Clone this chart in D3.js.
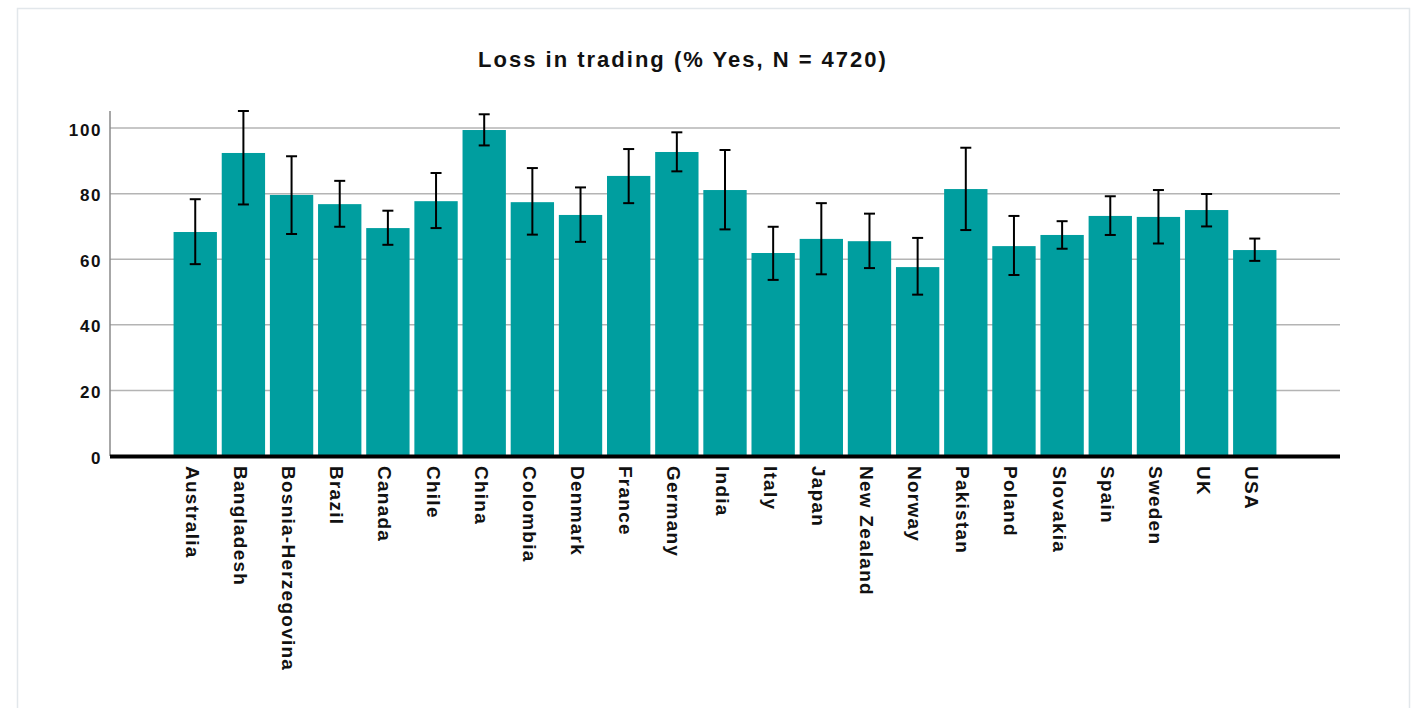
<!DOCTYPE html>
<html>
<head>
<meta charset="utf-8">
<script src="https://cdn.jsdelivr.net/npm/d3@7"></script>
<style>
  html, body { margin: 0; padding: 0; background: #ffffff; }
  svg { display: block; }
  text { font-family: "Liberation Sans", Arial, Helvetica, sans-serif; font-weight: bold; fill: #111; }
</style>
</head>
<body>
<svg id="chart" width="1413" height="708"></svg>
<script>
const categories = ["Australia", "Bangladesh", "Bosnia-Herzegovina", "Brazil", "Canada", "Chile", "China", "Colombia", "Denmark", "France", "Germany", "India", "Italy", "Japan", "New Zealand", "Norway", "Pakistan", "Poland", "Slovakia", "Spain", "Sweden", "UK", "USA"];
const values   = [68.3, 92.4, 79.6, 76.8, 69.5, 77.7, 99.4, 77.4, 73.5, 85.4, 92.7, 81.1, 61.9, 66.2, 65.5, 57.6, 81.4, 64.0, 67.4, 73.2, 72.9, 75.0, 62.8];
const errHigh  = [78.3, 105.2, 91.4, 83.9, 74.8, 86.3, 104.2, 87.8, 81.9, 93.6, 98.7, 93.3, 69.9, 77.1, 73.9, 66.5, 94.0, 73.2, 71.6, 79.2, 81.1, 79.9, 66.3];
const errLow   = [58.5, 76.7, 67.7, 69.9, 64.4, 69.5, 94.7, 67.5, 65.3, 77.1, 86.8, 69.1, 53.7, 55.4, 57.3, 49.2, 68.9, 55.2, 63.2, 67.4, 64.8, 70.0, 59.5];
const yTicks   = [0, 20, 40, 60, 80, 100];
const titleText = "Loss in trading (% Yes, N = 4720)";

const svg = d3.select("#chart");

// card border
svg.append("rect")
  .attr("x", 17.5).attr("y", 8.5)
  .attr("width", 1392).attr("height", 720)
  .attr("fill", "#fff")
  .attr("stroke", "#e2e7eb").attr("stroke-width", 1.5);

const plotLeft = 110, plotRight = 1340, plotBottom = 456, plotTop = 111;

const x = d3.scaleBand().domain(categories).range([plotLeft, plotRight])
  .paddingInner(0.1).paddingOuter(1.32);
const y = d3.scaleLinear().domain([0, 105.2]).range([plotBottom, plotTop]);

const data = categories.map((c, i) => ({ c, v: values[i], hi: errHigh[i], lo: errLow[i] }));

// gridlines
svg.append("g").selectAll("line").data(yTicks.filter(t => t > 0)).join("line")
  .attr("x1", plotLeft).attr("x2", plotRight)
  .attr("y1", d => y(d)).attr("y2", d => y(d))
  .attr("stroke", "#b4b4b4").attr("stroke-width", 1.5);

// y axis line
svg.append("line")
  .attr("x1", plotLeft).attr("x2", plotLeft).attr("y1", plotTop).attr("y2", plotBottom)
  .attr("stroke", "#8a8a8a").attr("stroke-width", 1.5);

// y tick labels
svg.append("g").selectAll("text").data(yTicks).join("text")
  .attr("x", 102).attr("y", d => y(d) + 7.5)
  .attr("text-anchor", "end")
  .style("font-size", "17px").style("letter-spacing", "1.6px")
  .text(d => d);

// bars
svg.append("g").selectAll("rect").data(data).join("rect")
  .attr("x", d => x(d.c)).attr("width", x.bandwidth())
  .attr("y", d => y(d.v)).attr("height", d => y(0) - y(d.v))
  .attr("fill", "#009e9f");

// error bars
const eb = svg.append("g").attr("stroke", "#000").attr("stroke-width", 2);
data.forEach(d => {
  const cx = x(d.c) + x.bandwidth() / 2;
  eb.append("line").attr("x1", cx).attr("x2", cx).attr("y1", y(d.hi)).attr("y2", y(d.lo));
  eb.append("line").attr("x1", cx - 5.5).attr("x2", cx + 5.5).attr("y1", y(d.hi)).attr("y2", y(d.hi));
  eb.append("line").attr("x1", cx - 5.5).attr("x2", cx + 5.5).attr("y1", y(d.lo)).attr("y2", y(d.lo));
});

// baseline
svg.append("line")
  .attr("x1", plotLeft).attr("x2", plotRight).attr("y1", y(0) + 0.5).attr("y2", y(0) + 0.5)
  .attr("stroke", "#000").attr("stroke-width", 4);

// x labels
svg.append("g").selectAll("text").data(categories).join("text")
  .attr("transform", d => `translate(${x(d) + x.bandwidth() / 2 - 9.5},466) rotate(90)`)
  .attr("text-anchor", "start")
  .style("font-size", "19px").style("letter-spacing", "1.25px")
  .text(d => d);

// title
svg.append("text")
  .attr("x", 683).attr("y", 67)
  .attr("text-anchor", "middle")
  .style("font-size", "22px").style("letter-spacing", "2px")
  .text(titleText);
</script>
</body>
</html>
